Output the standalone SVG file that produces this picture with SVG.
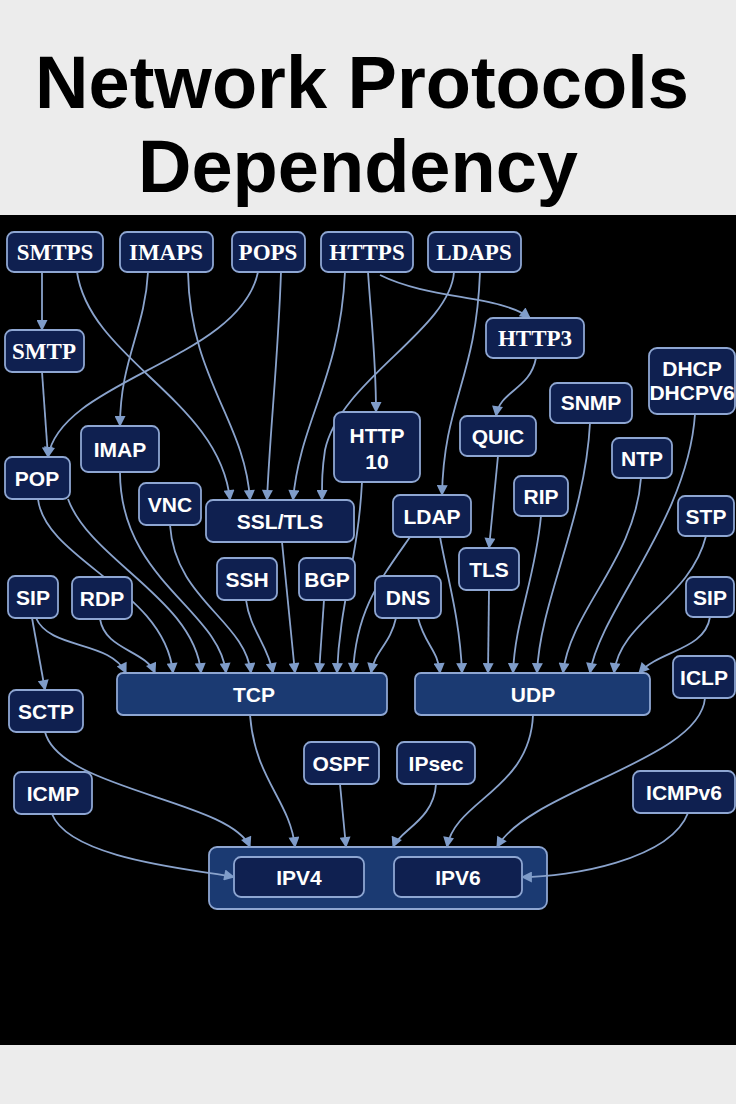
<svg xmlns="http://www.w3.org/2000/svg" width="736" height="1104" viewBox="0 0 736 1104">
<style>
.n{fill:#0f2050;stroke:#8ea6d2;stroke-width:1.8}
.b{fill:#1b3a72;stroke:#8ea6d2;stroke-width:1.8}
.t{font-family:"Liberation Sans",Arial,sans-serif;font-weight:bold;font-size:21px;fill:#fff;text-anchor:middle}
.s{font-family:"Liberation Serif","Times New Roman",serif;font-weight:bold;font-size:23px;fill:#fff;text-anchor:middle}
.e path{fill:none;stroke:#8aa3cc;stroke-width:1.8;marker-end:url(#a)}
</style>
<defs><marker id="a" viewBox="0 0 10 10" refX="9" refY="5" markerWidth="14" markerHeight="11" orient="auto" markerUnits="userSpaceOnUse"><path d="M0,0L10,5L0,10z" fill="#7f9cc9"/></marker></defs>
<rect width="736" height="1104" fill="#ececec"/>
<rect y="215" width="736" height="830" fill="#000"/>
<text x="362" y="108" font-family="Liberation Sans,Arial,sans-serif" font-weight="bold" font-size="74" text-anchor="middle" fill="#000">Network Protocols</text>
<text x="358" y="192" font-family="Liberation Sans,Arial,sans-serif" font-weight="bold" font-size="74" text-anchor="middle" fill="#000">Dependency</text>
<g id="IP"><rect class="b" x="209" y="847" width="338" height="62" rx="8"/>
<rect class="n" x="234" y="857" width="130" height="40" rx="7"/><text class="t" x="299" y="885">IPV4</text>
<rect class="n" x="394" y="857" width="128" height="40" rx="7"/><text class="t" x="458" y="885">IPV6</text></g>
<g class="e">
<path d="M42,272L42,330"/>
<path d="M77,272C90,360 220,400 230,500"/>
<path d="M148,272C145,330 120,360 120,426"/>
<path d="M188,272C190,380 245,420 250,500"/>
<path d="M258,272C240,360 60,380 48,457"/>
<path d="M281,272C278,360 270,430 267,500"/>
<path d="M345,272C340,380 300,420 293,500"/>
<path d="M368,272C372,330 376,360 376,412"/>
<path d="M380,275C430,300 500,295 530,318"/>
<path d="M454,272C450,330 340,380 325,450C322,470 322,480 322,500"/>
<path d="M480,272C476,380 444,400 442,495"/>
<path d="M536,358C530,390 500,390 496,416"/>
<path d="M498,456L489,548"/>
<path d="M42,372L48,457"/>
<path d="M32,618L45,690"/>
<path d="M36,618C50,650 110,640 126,673"/>
<path d="M100,619C105,650 145,650 155,673"/>
<path d="M38,499C45,560 165,590 173,673"/>
<path d="M68,499C90,560 195,600 201,673"/>
<path d="M120,472C120,580 220,610 226,673"/>
<path d="M170,525C175,600 245,620 251,673"/>
<path d="M246,600C250,630 268,645 273,673"/>
<path d="M282,542L295,673"/>
<path d="M324,600L319,673"/>
<path d="M362,482C358,560 340,600 337,673"/>
<path d="M410,537C380,580 356,610 353,673"/>
<path d="M396,618C390,645 375,650 371,673"/>
<path d="M418,618C425,645 438,650 440,673"/>
<path d="M440,537C448,580 460,620 462,673"/>
<path d="M489,590L488,673"/>
<path d="M541,516C535,580 515,620 513,673"/>
<path d="M590,423C585,520 540,600 537,673"/>
<path d="M641,478C635,560 570,610 563,673"/>
<path d="M695,414C688,520 600,610 590,673"/>
<path d="M706,536C690,600 620,620 614,673"/>
<path d="M710,617C705,650 660,650 639,673"/>
<path d="M250,715C255,780 290,800 295,847"/>
<path d="M533,715C530,790 455,800 447,847"/>
<path d="M45,732C60,790 230,800 250,847"/>
<path d="M52,814C70,860 200,870 234,877"/>
<path d="M340,784L346,847"/>
<path d="M436,784C434,820 400,830 393,847"/>
<path d="M705,698C700,760 530,790 497,847"/>
<path d="M688,813C670,860 570,877 522,877"/>
</g>
<g id="SMTPS"><rect class="n" x="7" y="232" width="96" height="40" rx="7"/><text class="s" x="55" y="260">SMTPS</text></g>
<g id="IMAPS"><rect class="n" x="120" y="232" width="93" height="40" rx="7"/><text class="s" x="166" y="260">IMAPS</text></g>
<g id="POPS"><rect class="n" x="232" y="232" width="73" height="40" rx="7"/><text class="s" x="268" y="260">POPS</text></g>
<g id="HTTPS"><rect class="n" x="321" y="232" width="92" height="40" rx="7"/><text class="s" x="367" y="260">HTTPS</text></g>
<g id="LDAPS"><rect class="n" x="428" y="232" width="93" height="40" rx="7"/><text class="s" x="474" y="260">LDAPS</text></g>
<g id="SMTP"><rect class="n" x="5" y="330" width="79" height="42" rx="7"/><text class="s" x="44" y="359">SMTP</text></g>
<g id="HTTP3"><rect class="n" x="486" y="318" width="98" height="40" rx="7"/><text class="s" x="535" y="346">HTTP3</text></g>
<g id="DHCP"><rect class="n" x="649" y="348" width="86" height="66" rx="8"/><text class="t" x="692" y="376">DHCP</text><text class="t" x="692" y="400" font-size="17">DHCPV6</text></g>
<g id="SNMP"><rect class="n" x="550" y="383" width="82" height="40" rx="7"/><text class="t" x="591" y="410">SNMP</text></g>
<g id="IMAP"><rect class="n" x="81" y="426" width="78" height="46" rx="7"/><text class="t" x="120" y="457">IMAP</text></g>
<g id="HTTP10"><rect class="n" x="334" y="412" width="86" height="70" rx="8"/><text class="t" x="377" y="443">HTTP</text><text class="t" x="377" y="469">10</text></g>
<g id="QUIC"><rect class="n" x="460" y="416" width="76" height="40" rx="7"/><text class="t" x="498" y="444">QUIC</text></g>
<g id="POP"><rect class="n" x="5" y="457" width="65" height="42" rx="7"/><text class="t" x="37" y="486">POP</text></g>
<g id="NTP"><rect class="n" x="612" y="438" width="60" height="40" rx="7"/><text class="t" x="642" y="466">NTP</text></g>
<g id="VNC"><rect class="n" x="139" y="483" width="62" height="42" rx="7"/><text class="t" x="170" y="512">VNC</text></g>
<g id="SSLTLS"><rect class="n" x="206" y="500" width="148" height="42" rx="7"/><text class="t" x="280" y="529">SSL/TLS</text></g>
<g id="LDAP"><rect class="n" x="393" y="495" width="78" height="42" rx="7"/><text class="t" x="432" y="524">LDAP</text></g>
<g id="RIP"><rect class="n" x="514" y="476" width="54" height="40" rx="7"/><text class="t" x="541" y="504">RIP</text></g>
<g id="STP"><rect class="n" x="678" y="496" width="56" height="40" rx="7"/><text class="t" x="706" y="524">STP</text></g>
<g id="TLS"><rect class="n" x="459" y="548" width="60" height="42" rx="7"/><text class="t" x="489" y="577">TLS</text></g>
<g id="SSH"><rect class="n" x="217" y="558" width="60" height="42" rx="7"/><text class="t" x="247" y="587">SSH</text></g>
<g id="BGP"><rect class="n" x="299" y="558" width="56" height="42" rx="7"/><text class="t" x="327" y="587">BGP</text></g>
<g id="DNS"><rect class="n" x="375" y="576" width="66" height="42" rx="7"/><text class="t" x="408" y="605">DNS</text></g>
<g id="SIP1"><rect class="n" x="8" y="576" width="50" height="42" rx="7"/><text class="t" x="33" y="605">SIP</text></g>
<g id="RDP"><rect class="n" x="72" y="577" width="60" height="42" rx="7"/><text class="t" x="102" y="606">RDP</text></g>
<g id="SIP2"><rect class="n" x="686" y="577" width="48" height="40" rx="7"/><text class="t" x="710" y="605">SIP</text></g>
<g id="TCP"><rect class="b" x="117" y="673" width="270" height="42" rx="6"/><text class="t" x="254" y="702">TCP</text></g>
<g id="UDP"><rect class="b" x="415" y="673" width="235" height="42" rx="6"/><text class="t" x="533" y="702">UDP</text></g>
<g id="ICLP"><rect class="n" x="673" y="656" width="62" height="42" rx="7"/><text class="t" x="704" y="685">ICLP</text></g>
<g id="SCTP"><rect class="n" x="9" y="690" width="74" height="42" rx="7"/><text class="t" x="46" y="719">SCTP</text></g>
<g id="OSPF"><rect class="n" x="304" y="742" width="75" height="42" rx="7"/><text class="t" x="341" y="771">OSPF</text></g>
<g id="IPsec"><rect class="n" x="397" y="742" width="78" height="42" rx="7"/><text class="t" x="436" y="771">IPsec</text></g>
<g id="ICMP"><rect class="n" x="14" y="772" width="78" height="42" rx="7"/><text class="t" x="53" y="801">ICMP</text></g>
<g id="ICMPv6"><rect class="n" x="633" y="771" width="102" height="42" rx="7"/><text class="t" x="684" y="800">ICMPv6</text></g>
</svg>
